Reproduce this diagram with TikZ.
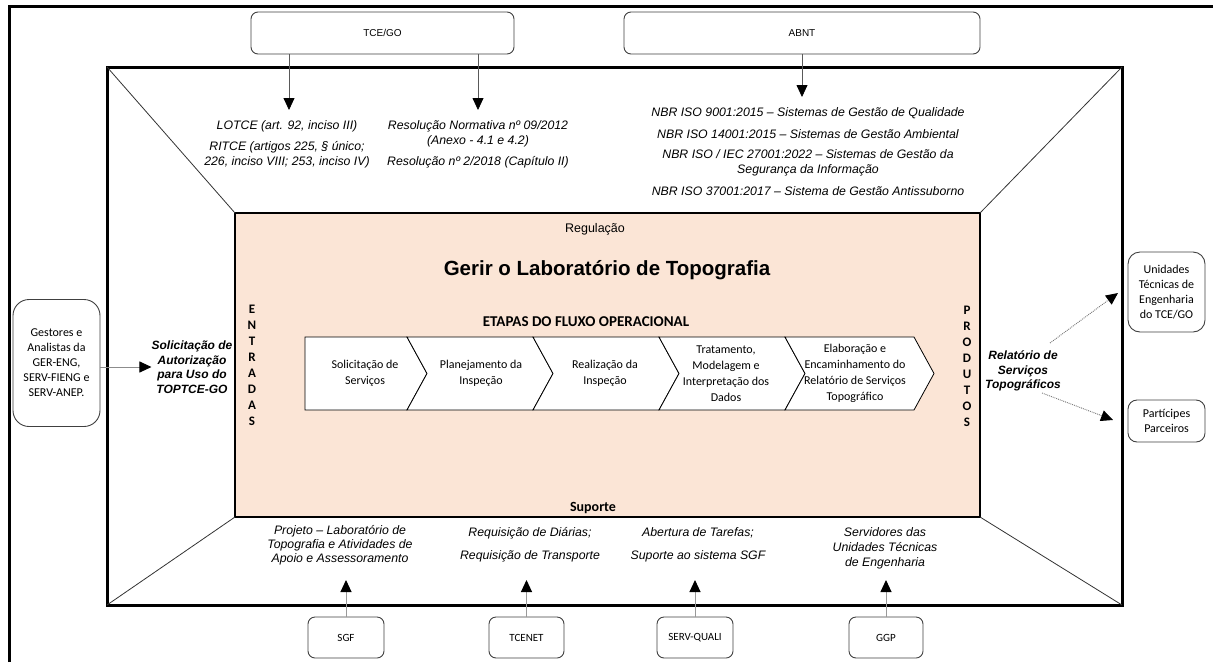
\documentclass[tikz,border=0pt]{standalone}
\usepackage{fontspec}
\setmainfont{Liberation Sans}
\newfontfamily\calib{Carlito}
\usetikzlibrary{arrows.meta}
\definecolor{peach}{HTML}{FBE5D6}
\begin{document}
\begin{tikzpicture}[x=1pt,y=-1pt,
  itx/.style={font=\fontsize{12.3}{15}\selectfont\itshape, align=center, inner sep=0pt},
  bitx/.style={font=\fontsize{12}{14.5}\selectfont\bfseries\itshape, align=center, inner sep=0pt},
  rbox/.style={draw=black!75, line width=0.9pt, rounded corners=7pt, fill=white, inner sep=0pt, align=center},
  calt/.style={font=\calib\fontsize{12}{15}\selectfont, align=center, inner sep=0pt},
  smallcal/.style={font=\calib\fontsize{11}{13}\selectfont},
  smallari/.style={font=\fontsize{10}{12}\selectfont},
  chev/.style={draw=black, line width=0.8pt, fill=white, line join=miter},
  diag/.style={draw=black!80, line width=0.8pt},
  tip/.style={-{Triangle[length=12pt,width=11pt,color=black]}},
  arrd/.style={tip, draw=black!65, line width=0.8pt},
  arrg/.style={tip, draw=black!40, line width=1pt},
  arrdot/.style={tip, draw=black!55, line width=0.9pt, densely dotted},
  frame/.style={draw=black, inner sep=0pt, outer sep=0pt, anchor=north west}
]
\useasboundingbox (0,0) rectangle (1213,662);
% outer frame (cropped on right and bottom)
\draw[line width=3pt] (9,662) -- (9,6.5) -- (1213,6.5);
% middle frame
\node[frame, line width=3pt, minimum width=1015pt, minimum height=538pt] (mid) at (107,67) {};
% inner process box
\node[frame, line width=2pt, fill=peach, minimum width=745pt, minimum height=304pt] (inner) at (235,213) {};
\draw[diag] (mid.north west) -- (inner.north west);
\draw[diag] (mid.north east) -- (inner.north east);
\draw[diag] (mid.south west) -- (inner.south west);
\draw[diag] (mid.south east) -- (inner.south east);

% top sources
\node[rbox, smallari, minimum width=263pt, minimum height=42pt] (tce) at (382.5,33) {TCE/GO};
\node[rbox, smallari, minimum width=356pt, minimum height=42pt] (abnt) at (802,33) {ABNT};

\node[itx] (lotce) at (287,126) {LOTCE (art. 92, inciso III)};
\node[itx] (ritce) at (287,154.5) {RITCE (artigos 225, § único;\\226, inciso VIII; 253, inciso IV)};
\node[itx] (resn) at (478,133.5) {Resolução Normativa nº 09/2012\\(Anexo - 4.1 e 4.2)};
\node[itx] (res2) at (478,162) {Resolução nº 2/2018 (Capítulo II)};

\node[itx] (nbr1) at (808,113) {NBR ISO 9001:2015 – Sistemas de Gestão de Qualidade};
\node[itx] (nbr2) at (808,134) {NBR ISO 14001:2015 – Sistemas de Gestão Ambiental};
\node[itx] (nbr3) at (808,162.5) {NBR ISO / IEC 27001:2022 – Sistemas de Gestão da\\Segurança da Informação};
\node[itx] (nbr4) at (808,191) {NBR ISO 37001:2017 – Sistema de Gestão Antissuborno};

\coordinate (t1) at (289,110);
\coordinate (t2) at (478,110);
\coordinate (t3) at (802,97);
\draw[arrd] (tce.south -| t1) -- (t1);
\draw[arrd] (tce.south -| t2) -- (t2);
\draw[arrd] (abnt.south) -- (t3);

% inner texts
\node[font=\fontsize{12.5}{15}\selectfont, inner sep=0pt] (reg) at (595,229) {Regulação};
\node[font=\fontsize{20.5}{24}\selectfont\bfseries, inner sep=0pt] (title) at (607,270) {Gerir o Laboratório de Topografia};
\node[font=\calib\fontsize{15}{18}\selectfont\bfseries, inner sep=0pt] (etapas) at (586,322) {ETAPAS DO FLUXO OPERACIONAL};
\node[font=\calib\fontsize{14}{16}\selectfont\bfseries, inner sep=0pt] (sup) at (593,508) {Suporte};
\node[font=\calib\fontsize{13}{16}\selectfont\bfseries, align=center, inner sep=0pt] (ent) at (252,365) {E\\N\\T\\R\\A\\D\\A\\S};
\node[font=\calib\fontsize{13}{16}\selectfont\bfseries, align=center, inner sep=0pt] (prod) at (967,366) {P\\R\\O\\D\\U\\T\\O\\S};

% chevrons
\draw[chev] (305,337) -- (407,337) -- (427,373.5) -- (407,410) -- (305,410) -- cycle;
\draw[chev] (407,337) -- (533,337) -- (553,373.5) -- (533,410) -- (407,410) -- (427,373.5) -- cycle;
\draw[chev] (533,337) -- (659,337) -- (679,373.5) -- (659,410) -- (533,410) -- (553,373.5) -- cycle;
\draw[chev] (659,337) -- (785,337) -- (805,373.5) -- (785,410) -- (659,410) -- (679,373.5) -- cycle;
\draw[chev] (785,337) -- (914,337) -- (934,373.5) -- (914,410) -- (785,410) -- (805,373.5) -- cycle;
\node[calt, font=\calib\fontsize{12}{16}\selectfont] (c1) at (365,373.5) {Solicitação de\\Serviços};
\node[calt, font=\calib\fontsize{12}{16}\selectfont] (c2) at (481,373.5) {Planejamento da\\Inspeção};
\node[calt, font=\calib\fontsize{12}{16}\selectfont] (c3) at (605,373.5) {Realização da\\Inspeção};
\node[calt, font=\calib\fontsize{12}{16}\selectfont] (c4) at (726,373.5) {Tratamento,\\Modelagem e\\Interpretação dos\\Dados};
\node[calt, font=\calib\fontsize{12}{16}\selectfont] (c5) at (855,373.5) {Elaboração e\\Encaminhamento do\\Relatório de Serviços\\Topográfico};

% left: inputs
\node[rbox, calt, rounded corners=16pt, minimum width=87pt, minimum height=127pt] (gest) at (56.5,363) {Gestores e\\Analistas da\\GER-ENG,\\SERV-FIENG e\\SERV-ANEP.};
\node[bitx] (sol) at (192,367) {Solicitação de\\Autorização\\para Uso do\\TOPTCE-GO};
\draw[arrg, draw=black!45] (gest.east |- sol.west) -- (sol.west);

% right: products
\node[bitx] (rel) at (1023,371) {Relatório de\\Serviços\\Topográficos};
\node[rbox, calt, rounded corners=12pt, minimum width=77pt, minimum height=80pt] (uni) at (1166.5,292) {Unidades\\Técnicas de\\Engenharia\\do TCE/GO};
\node[rbox, calt, rounded corners=9pt, minimum width=77pt, minimum height=42pt] (par) at (1166.5,421) {Partícipes\\Parceiros};
\coordinate (r1) at (1050,343);
\coordinate (u1) at (1118,293);
\coordinate (r2) at (1042,393);
\coordinate (p1) at (1113,420);
\draw[arrdot] (r1) -- (u1);
\draw[arrdot] (r2) -- (p1);

% bottom: support
\node[itx, font=\fontsize{12.3}{14}\selectfont\itshape] (proj) at (340,545.5) {Projeto – Laboratório de\\Topografia e Atividades de\\Apoio e Assessoramento};
\node[itx] (req1) at (530,533) {Requisição de Diárias;};
\node[itx] (req2) at (530,556) {Requisição de Transporte};
\node[itx] (ab1) at (698,533) {Abertura de Tarefas;};
\node[itx] (ab2) at (698,556) {Suporte ao sistema SGF};
\node[itx] (serv) at (885,548) {Servidores das\\Unidades Técnicas\\de Engenharia};

\node[rbox, smallcal, minimum width=76pt, minimum height=41pt] (sgf) at (346,637.5) {SGF};
\node[rbox, smallcal, minimum width=75pt, minimum height=41pt] (tcenet) at (526.5,637.5) {TCENET};
\node[rbox, smallcal, minimum width=76pt, minimum height=41pt] (servq) at (695,637.5) {SERV-QUALI};
\node[rbox, smallcal, minimum width=74pt, minimum height=41pt] (ggp) at (886,637.5) {GGP};
\coordinate (b1) at (346,580);
\coordinate (b2) at (526.5,580);
\coordinate (b3) at (695,580);
\coordinate (b4) at (886,580);
\draw[arrg] (sgf.north) -- (b1);
\draw[arrg] (tcenet.north) -- (b2);
\draw[arrg] (servq.north) -- (b3);
\draw[arrg] (ggp.north) -- (b4);
\end{tikzpicture}
\end{document}
